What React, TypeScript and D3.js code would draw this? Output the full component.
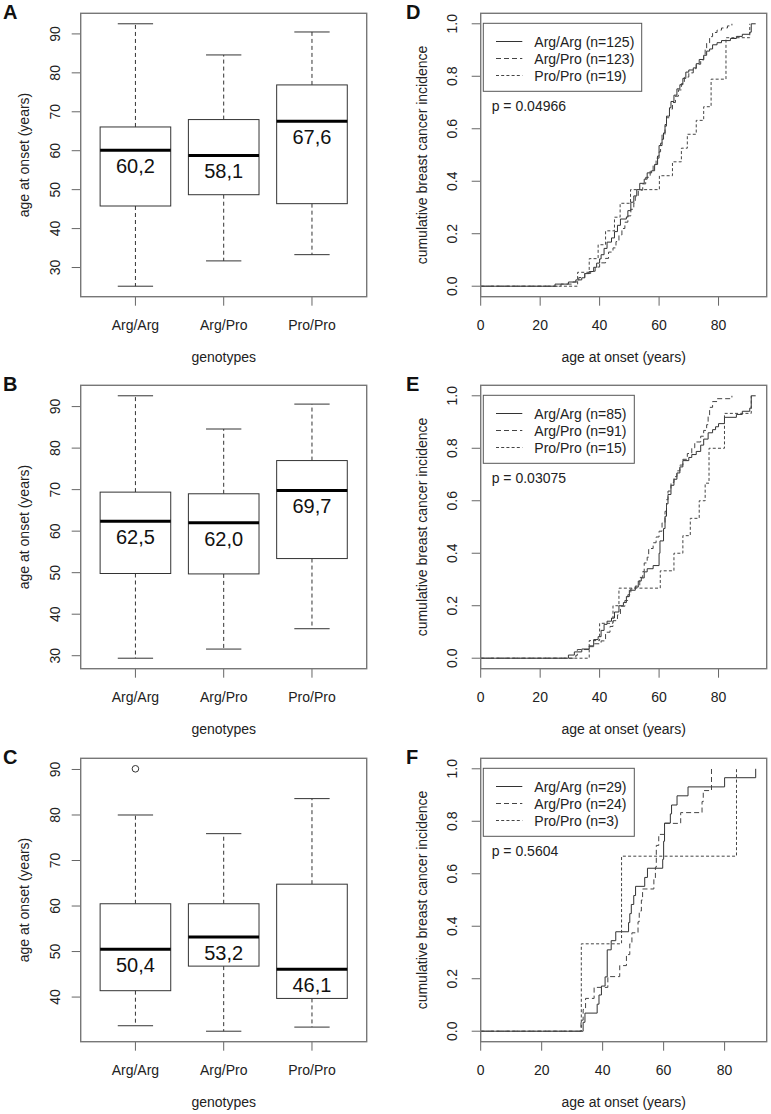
import React from "react";
import * as d3 from "d3";

// ---------- data ----------
const genotypes = ["Arg/Arg", "Arg/Pro", "Pro/Pro"];

// Boxplot A
const boxA_lower = [25.2, 31.7, 33.3];
const boxA_q1 = [45.8, 48.7, 46.4];
const boxA_median = [60.1, 58.8, 67.6];
const boxA_q3 = [66.1, 68.0, 76.9];
const boxA_upper = [92.6, 84.6, 90.5];
const boxA_labels = ["60,2", "58,1", "67,6"];
const boxA_outliers: [number, number][] = [];

// Boxplot B
const boxB_lower = [29.4, 31.6, 36.5];
const boxB_q1 = [49.8, 49.7, 53.4];
const boxB_median = [62.4, 62.0, 69.8];
const boxB_q3 = [69.4, 69.0, 77.0];
const boxB_upper = [92.6, 84.6, 90.6];
const boxB_labels = ["62,5", "62,0", "69,7"];
const boxB_outliers: [number, number][] = [];

// Boxplot C
const boxC_lower = [33.7, 32.5, 33.4];
const boxC_q1 = [41.4, 46.8, 39.7];
const boxC_median = [50.5, 53.2, 46.1];
const boxC_q3 = [60.5, 60.5, 64.8];
const boxC_upper = [80.0, 75.9, 83.6];
const boxC_labels = ["50,4", "53,2", "46,1"];
const boxC_outliers: [number, number][] = [[0, 90.15]];

// Cumulative incidence D
const kmD_ArgArg: [number, number][] = [[25,0.008],[29.5,0.016],[32,0.024],[34,0.032],[35,0.048],[36.5,0.056],[38,0.072],[39,0.088],[40,0.104],[40.5,0.12],[41.5,0.144],[42.5,0.168],[44,0.184],[45,0.208],[46,0.232],[47,0.256],[49,0.264],[49.5,0.288],[50.5,0.32],[51.5,0.344],[52.5,0.368],[53.5,0.392],[55,0.408],[56,0.432],[57.5,0.44],[58.5,0.464],[59.5,0.496],[60,0.536],[61,0.56],[61.5,0.584],[62,0.616],[62.5,0.648],[63.5,0.68],[64,0.704],[65,0.728],[66,0.752],[67,0.768],[68,0.792],[69,0.816],[70,0.824],[71.5,0.832],[72.5,0.848],[73.5,0.864],[75,0.88],[76,0.896],[77,0.904],[78,0.92],[79.5,0.928],[81,0.936],[84,0.944],[86,0.952],[88,0.96],[90.5,0.968],[91,1.0],[92.5,1.0]];
const kmD_ArgPro: [number, number][] = [[27,0.008],[31,0.016],[33,0.033],[35,0.049],[37,0.057],[38.5,0.073],[40,0.089],[42,0.106],[43,0.13],[44.5,0.146],[45.5,0.17],[46.5,0.195],[47.5,0.22],[48.5,0.244],[49.5,0.268],[50.5,0.293],[51.5,0.317],[52,0.341],[53,0.366],[54.5,0.39],[55.5,0.415],[57,0.439],[58,0.463],[59,0.488],[60,0.512],[60.5,0.545],[61,0.577],[62,0.61],[62.5,0.642],[63.5,0.675],[64.5,0.7],[65.5,0.724],[66.5,0.748],[67.5,0.772],[68.5,0.797],[70,0.813],[71.5,0.829],[72.5,0.846],[74,0.862],[75,0.878],[75.5,0.902],[76,0.927],[77,0.951],[78,0.967],[79.5,0.976],[81,0.984],[83,0.992],[84.5,1.0]];
const kmD_ProPro: [number, number][] = [[32.6,0.053],[36.5,0.105],[39.5,0.158],[42,0.211],[45,0.263],[46.9,0.316],[50.4,0.368],[60.1,0.421],[64.5,0.474],[67.5,0.526],[69.5,0.579],[72.5,0.632],[75,0.684],[77.5,0.789],[82.5,0.947],[90.5,1.0]];

// Cumulative incidence E
const kmE_ArgArg: [number, number][] = [[29.5,0.012],[31.5,0.024],[34,0.035],[36.5,0.047],[38,0.071],[39.5,0.082],[40.5,0.106],[41.5,0.129],[42.5,0.141],[44,0.153],[45,0.176],[46.5,0.2],[48,0.212],[49,0.235],[50,0.259],[52,0.271],[53,0.294],[54,0.306],[55,0.329],[56,0.341],[58,0.353],[60,0.4],[60.3,0.447],[61.5,0.494],[62,0.541],[62.5,0.588],[63,0.624],[64,0.659],[65,0.682],[66,0.706],[67,0.729],[68,0.753],[70,0.765],[71,0.776],[72.5,0.788],[74,0.812],[75,0.835],[76.5,0.859],[78,0.871],[79,0.882],[80,0.894],[82,0.918],[86,0.929],[88,0.941],[90.5,0.953],[91,1.0],[92.5,1.0]];
const kmE_ArgPro: [number, number][] = [[32,0.011],[32.5,0.033],[36.5,0.044],[38,0.055],[40.5,0.066],[42,0.099],[43.5,0.121],[44.5,0.143],[46,0.165],[47,0.198],[48.5,0.22],[49.5,0.242],[50.5,0.264],[52,0.275],[53.5,0.308],[54.5,0.33],[55,0.363],[56,0.385],[56.5,0.418],[58,0.44],[59,0.462],[60,0.484],[61,0.516],[62,0.56],[62.5,0.604],[63,0.637],[64,0.67],[65,0.692],[66,0.714],[67,0.736],[68,0.758],[69.5,0.78],[71,0.802],[72,0.824],[74,0.846],[75,0.868],[76,0.89],[76.5,0.923],[77,0.956],[78,0.978],[79.5,0.989],[84.5,1.0]];
const kmE_ProPro: [number, number][] = [[36.5,0.067],[40,0.133],[44.5,0.2],[46.5,0.267],[60.4,0.333],[65,0.4],[68,0.467],[70.5,0.533],[73.5,0.6],[75.5,0.667],[76.8,0.8],[82,0.933],[91,1.0]];

// Cumulative incidence F
const kmF_ArgArg: [number, number][] = [[33.6,0.034],[34.2,0.069],[38.2,0.103],[38.8,0.138],[39.6,0.172],[40.8,0.207],[41.5,0.31],[42.8,0.345],[44.3,0.379],[48.5,0.414],[48.9,0.448],[49.4,0.483],[50.2,0.517],[50.8,0.552],[53.8,0.586],[54.7,0.621],[59.7,0.655],[60,0.724],[60.3,0.793],[62.2,0.828],[62.6,0.862],[64.4,0.897],[68,0.931],[80,0.966],[90.2,1.0]];
const kmF_ArgPro: [number, number][] = [[32.9,0.042],[33.6,0.083],[34.4,0.125],[37.2,0.167],[41.7,0.208],[45.6,0.25],[47.8,0.292],[48.9,0.333],[49.6,0.375],[51.6,0.417],[52,0.458],[52.7,0.5],[53.1,0.542],[56.8,0.583],[57.3,0.625],[57.6,0.708],[58.4,0.75],[60.3,0.792],[65.6,0.833],[72.6,0.875],[73,0.917],[75.7,1.0]];
const kmF_ProPro: [number, number][] = [[33,0.333],[46.2,0.667],[83.9,1.0]];

const legendD = ["Arg/Arg (n=125)", "Arg/Pro (n=123)", "Pro/Pro (n=19)"];
const legendE = ["Arg/Arg (n=85)", "Arg/Pro (n=91)", "Pro/Pro (n=15)"];
const legendF = ["Arg/Arg (n=29)", "Arg/Pro (n=24)", "Pro/Pro (n=3)"];
const pD = "p = 0.04966";
const pE = "p = 0.03075";
const pF = "p = 0.5604";

const kmYTicks = [0, 0.2, 0.4, 0.6, 0.8, 1.0];
const kmXTicks = [0, 20, 40, 60, 80];

// ---------- style ----------
const FONT = "'Liberation Sans', Arial, Helvetica, sans-serif";
const TEXT = "#222";
const FRAME = "#777";
const TICK = "#666";

const ROW_TOP = [0, 372, 745];
const PLOT_T = 13.3;
const PLOT_B = 296.7;

type BoxProps = {
  top: number;
  letter: string;
  lower: number[];
  q1: number[];
  med: number[];
  q3: number[];
  upper: number[];
  labels: string[];
  outliers: [number, number][];
};

function BoxPanel(p: BoxProps) {
  const L = 80.7, R = 366.7;
  const T = p.top + PLOT_T, B = p.top + PLOT_B;
  const all = [...p.lower, ...p.upper, ...p.outliers.map((o) => o[1])];
  const lo = d3.min(all) as number, hi = d3.max(all) as number;
  const pad = (hi - lo) * 0.04;
  const y = d3.scaleLinear().domain([lo - pad, hi + pad]).range([B, T]);
  const x = d3.scaleLinear().domain([0.38, 3.62]).range([L, R]);
  const yt = d3.range(Math.ceil((lo - pad) / 10) * 10, hi + pad, 10);
  return (
    <g>
      <text x={3} y={p.top + 18.5} fontFamily={FONT} fontWeight="bold" fontSize={20} fill="#111">{p.letter}</text>
      {genotypes.map((g, i) => {
        const cx = x(i + 1);
        return (
          <g key={g}>
            <line x1={cx} x2={cx} y1={y(p.q3[i])} y2={y(p.upper[i])} stroke="#333" strokeDasharray="4,3" />
            <line x1={cx} x2={cx} y1={y(p.q1[i])} y2={y(p.lower[i])} stroke="#333" strokeDasharray="4,3" />
            <line x1={x(i + 1 - 0.2)} x2={x(i + 1 + 0.2)} y1={y(p.upper[i])} y2={y(p.upper[i])} stroke="#333" />
            <line x1={x(i + 1 - 0.2)} x2={x(i + 1 + 0.2)} y1={y(p.lower[i])} y2={y(p.lower[i])} stroke="#333" />
            <rect x={x(i + 1 - 0.4)} y={y(p.q3[i])} width={x(i + 1.4) - x(i + 0.6)} height={y(p.q1[i]) - y(p.q3[i])} fill="white" stroke="#333" />
            <line x1={x(i + 1 - 0.4)} x2={x(i + 1 + 0.4)} y1={y(p.med[i])} y2={y(p.med[i])} stroke="#000" strokeWidth={3} />
            <text x={cx} y={y(p.med[i]) + 23} textAnchor="middle" fontFamily={FONT} fontSize={20} fill="#111">{p.labels[i]}</text>
            <line x1={cx} x2={cx} y1={B} y2={B + 9} stroke={TICK} />
            <text x={cx} y={B + 33.5} textAnchor="middle" fontFamily={FONT} fontSize={14} fill={TEXT}>{g}</text>
          </g>
        );
      })}
      {p.outliers.map((o, k) => (
        <circle key={k} cx={x(o[0] + 1)} cy={y(o[1])} r={3.3} fill="none" stroke="#333" />
      ))}
      {yt.map((t) => (
        <g key={t}>
          <line x1={L - 9} x2={L} y1={y(t)} y2={y(t)} stroke={TICK} />
          <text transform={`translate(55,${y(t)}) rotate(-90)`} textAnchor="middle" dominantBaseline="central" fontFamily={FONT} fontSize={14} fill={TEXT}>{t}</text>
        </g>
      ))}
      <rect x={L} y={T} width={R - L} height={B - T} fill="none" stroke={FRAME} strokeWidth={1.4} />
      <text transform={`translate(23.5,${(T + B) / 2}) rotate(-90)`} textAnchor="middle" dominantBaseline="central" fontFamily={FONT} fontSize={14} fill={TEXT}>age at onset (years)</text>
      <text x={(L + R) / 2} y={B + 65.5} textAnchor="middle" fontFamily={FONT} fontSize={14} fill={TEXT}>genotypes</text>
    </g>
  );
}

type KMProps = {
  top: number;
  letter: string;
  series: [number, number][][];
  legend: string[];
  legendWidth: number;
  pText: string;
};

const dashes = [null, "5,3", "3,2.2"];
const lineColors = ["#333", "#444", "#444"];

function KMPanel(p: KMProps) {
  const L = 480.7, R = 766.7;
  const T = p.top + PLOT_T, B = p.top + PLOT_B;
  const maxAge = d3.max(p.series.flat(), (d) => d[0]) as number;
  const x = d3.scaleLinear().domain([0, maxAge * 1.04]).range([L, R]);
  const y = d3.scaleLinear().domain([-0.04, 1.04]).range([B, T]);
  const line = d3.line<[number, number]>().x((d) => x(d[0])).y((d) => y(d[1])).curve(d3.curveStepAfter);
  const fmt = d3.format(".1f");
  const legRows = [41.5, 58.5, 75.5];
  return (
    <g>
      <text x={406} y={p.top + 18.5} fontFamily={FONT} fontWeight="bold" fontSize={20} fill="#111">{p.letter}</text>
      {p.series.map((s, i) => (
        <path key={i} d={line([[0, 0], ...s]) as string} fill="none" stroke={lineColors[i]} strokeWidth={1} strokeDasharray={dashes[i] ?? undefined} />
      ))}
      {kmYTicks.map((t) => (
        <g key={t}>
          <line x1={L - 9} x2={L} y1={y(t)} y2={y(t)} stroke={TICK} />
          <text transform={`translate(451.7,${y(t)}) rotate(-90)`} textAnchor="middle" dominantBaseline="central" fontFamily={FONT} fontSize={14} fill={TEXT}>{fmt(t)}</text>
        </g>
      ))}
      {kmXTicks.map((t) => (
        <g key={t}>
          <line x1={x(t)} x2={x(t)} y1={B} y2={B + 9} stroke={TICK} />
          <text x={x(t)} y={B + 33.5} textAnchor="middle" fontFamily={FONT} fontSize={14} fill={TEXT}>{t}</text>
        </g>
      ))}
      <rect x={L} y={T} width={R - L} height={B - T} fill="none" stroke={FRAME} strokeWidth={1.4} />
      <rect x={483.3} y={p.top + 23.3} width={p.legendWidth} height={68} fill="white" stroke="#555" strokeWidth={1} />
      {p.legend.map((lab, i) => (
        <g key={lab}>
          <line x1={496} x2={522.3} y1={p.top + legRows[i]} y2={p.top + legRows[i]} stroke={lineColors[i]} strokeDasharray={dashes[i] ?? undefined} />
          <text x={534.3} y={p.top + legRows[i] + 5} fontFamily={FONT} fontSize={14} fill={TEXT}>{lab}</text>
        </g>
      ))}
      <text x={491.7} y={p.top + 111} fontFamily={FONT} fontSize={14} fill={TEXT}>{p.pText}</text>
      <text transform={`translate(422.3,${(T + B) / 2}) rotate(-90)`} textAnchor="middle" dominantBaseline="central" fontFamily={FONT} fontSize={14} fill={TEXT}>cumulative breast cancer incidence</text>
      <text x={(L + R) / 2} y={B + 65.5} textAnchor="middle" fontFamily={FONT} fontSize={14} fill={TEXT}>age at onset (years)</text>
    </g>
  );
}

export default function App() {
  return (
    <svg width={771} height={1114} style={{ position: "absolute", left: 0, top: 0, background: "white" }}>
      <rect width={771} height={1114} fill="white" />
      <BoxPanel top={ROW_TOP[0]} letter="A" lower={boxA_lower} q1={boxA_q1} med={boxA_median} q3={boxA_q3} upper={boxA_upper} labels={boxA_labels} outliers={boxA_outliers} />
      <BoxPanel top={ROW_TOP[1]} letter="B" lower={boxB_lower} q1={boxB_q1} med={boxB_median} q3={boxB_q3} upper={boxB_upper} labels={boxB_labels} outliers={boxB_outliers} />
      <BoxPanel top={ROW_TOP[2]} letter="C" lower={boxC_lower} q1={boxC_q1} med={boxC_median} q3={boxC_q3} upper={boxC_upper} labels={boxC_labels} outliers={boxC_outliers} />
      <KMPanel top={ROW_TOP[0]} letter="D" series={[kmD_ArgArg, kmD_ArgPro, kmD_ProPro]} legend={legendD} legendWidth={158.4} pText={pD} />
      <KMPanel top={ROW_TOP[1]} letter="E" series={[kmE_ArgArg, kmE_ArgPro, kmE_ProPro]} legend={legendE} legendWidth={151} pText={pE} />
      <KMPanel top={ROW_TOP[2]} letter="F" series={[kmF_ArgArg, kmF_ArgPro, kmF_ProPro]} legend={legendF} legendWidth={151} pText={pF} />
    </svg>
  );
}
